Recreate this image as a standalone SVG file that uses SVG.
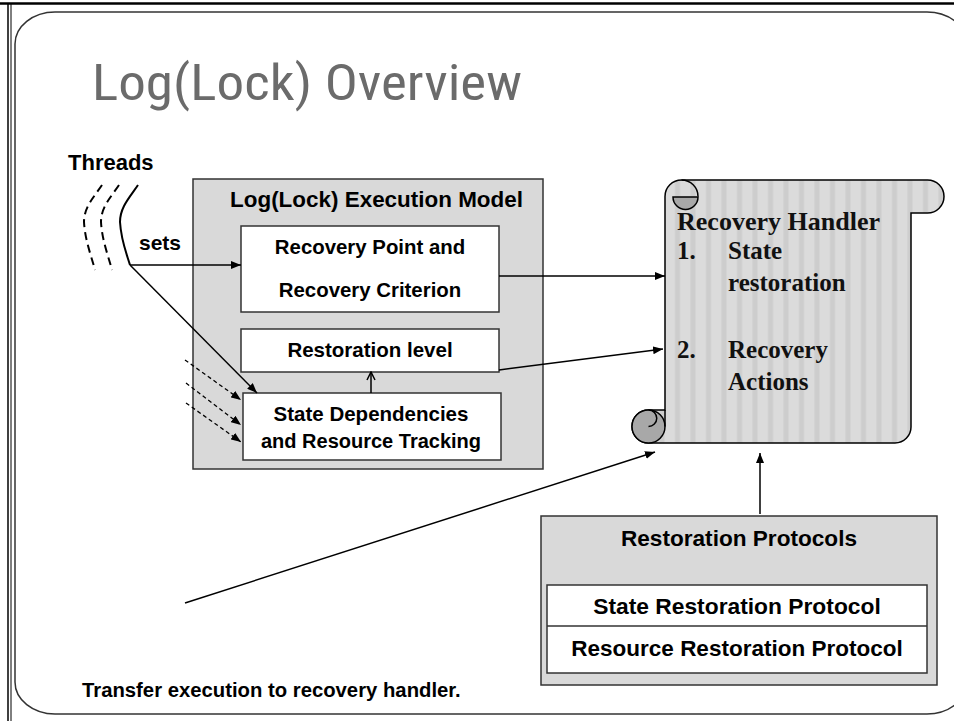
<svg xmlns="http://www.w3.org/2000/svg" width="954" height="721" viewBox="0 0 954 721">
<style>
.b{font-family:"Liberation Sans",Arial,sans-serif;font-weight:bold;fill:#000}
.s{font-family:"Liberation Serif","Times New Roman",serif;font-weight:bold;font-size:25px;fill:#111}
.box{fill:#d9d9d9;stroke:#333;stroke-width:1.5}
.wbox{fill:#fff;stroke:#333;stroke-width:1.5}
.ln{fill:none;stroke:#000;stroke-width:1.5}
.dl{fill:none;stroke:#000;stroke-width:1.3;stroke-dasharray:4 3}
.th{fill:none;stroke:#000;stroke-width:2}
.thd{fill:none;stroke:#000;stroke-width:2;stroke-dasharray:8 5}
</style>
<defs>
<marker id="ah" viewBox="0 0 10 8" refX="10" refY="4" markerWidth="10" markerHeight="8" markerUnits="userSpaceOnUse" orient="auto"><path d="M0,0 L10,4 L0,8 z" fill="#000"/></marker>
<marker id="oh" viewBox="0 0 10 10" refX="9" refY="5" markerWidth="10" markerHeight="10" markerUnits="userSpaceOnUse" orient="auto"><path d="M1,1 L9,5 L1,9" fill="none" stroke="#000" stroke-width="1.5"/></marker>
<pattern id="stripes" patternUnits="userSpaceOnUse" x="665" y="0" width="15.5" height="10"><rect width="15.5" height="10" fill="#dbdbdb"/><rect x="10" width="5" height="10" fill="#cdcdcd"/></pattern>
</defs>
<rect width="954" height="721" fill="#fff"/>
<g id="frame">
<line x1="0" y1="3.5" x2="954" y2="3.5" stroke="#000" stroke-width="2.5"/>
<line x1="8" y1="3" x2="8" y2="721" stroke="#000" stroke-width="1.5"/>
<line x1="11" y1="3" x2="11" y2="721" stroke="#000" stroke-width="1"/>
<rect x="15" y="12" width="952" height="702" rx="40" ry="32" fill="none" stroke="#333" stroke-width="1.5"/>
</g>
<g id="title"><text x="92" y="100" font-family="'Liberation Sans Narrow','Roboto Condensed','DejaVu Sans Condensed','Liberation Sans',sans-serif" font-size="50" fill="#6b6b6b" textLength="430" lengthAdjust="spacingAndGlyphs">Log(Lock) Overview</text></g>
<g id="threads">
<text class="b" x="68" y="170" font-size="22">Threads</text>
<path class="th" d="M138,185 C130,197 120,207 120,222 C121,240 126,252 130,265"/>
<path class="thd" d="M119,185 C111,197 101,207 101,222 C102,240 108,255 112,270"/>
<path class="thd" d="M102,185 C94,197 84,207 84,222 C85,240 91,255 95,270"/>
</g>
<g id="execution-model">
<rect class="box" x="193" y="179" width="350" height="290"/>
<text class="b" x="230" y="207" font-size="22.4" textLength="293" lengthAdjust="spacingAndGlyphs">Log(Lock) Execution Model</text>
</g>
<g id="recovery-point">
<rect class="wbox" x="241" y="226" width="258" height="86"/>
<text class="b" x="370" y="254" font-size="20.4" text-anchor="middle">Recovery Point and</text>
<text class="b" x="370" y="297" font-size="20.4" text-anchor="middle">Recovery Criterion</text>
</g>
<g id="restoration-level">
<rect class="wbox" x="241" y="329" width="258" height="43"/>
<text class="b" x="370" y="357" font-size="20.5" text-anchor="middle">Restoration level</text>
</g>
<g id="state-dependencies">
<rect class="wbox" x="243" y="393" width="258" height="67"/>
<text class="b" x="371" y="421" font-size="20.5" text-anchor="middle">State Dependencies</text>
<text class="b" x="371" y="448" font-size="20" text-anchor="middle">and Resource Tracking</text>
</g>
<g id="recovery-handler">
<path d="M665,196.5 A16.5,16.5 0 0 1 681.5,180 L927.5,180 A16.5,16.5 0 0 1 927.5,213 L911,213 L911,427 A16,16 0 0 1 895,443 L648.5,443 A16.5,16.5 0 0 1 648.5,410 L665,410 Z" fill="url(#stripes)" stroke="#000" stroke-width="1.5"/>
<circle cx="648.5" cy="426.5" r="16.5" fill="#a8a8a8" stroke="#000" stroke-width="1.5"/>
<path d="M648.5,426.5 A8.25,8.25 0 0 0 648.5,410" fill="none" stroke="#000" stroke-width="1.5"/>
<path d="M665,410 L665,426.5" fill="none" stroke="#000" stroke-width="1.5"/>
<path d="M681.5,180 A16.5,16.5 0 0 1 698,196.5" fill="none" stroke="#000" stroke-width="1.5"/>
<path d="M673,197 L698,197 A12.5,12.5 0 0 1 673,197 Z" fill="#a8a8a8" stroke="#000" stroke-width="1.5"/>
<text class="s" x="677" y="230" textLength="203" lengthAdjust="spacingAndGlyphs">Recovery Handler</text>
<text class="s" x="677" y="259">1.</text>
<text class="s" x="728" y="259">State</text>
<text class="s" x="728" y="291">restoration</text>
<text class="s" x="677" y="358">2.</text>
<text class="s" x="728" y="358">Recovery</text>
<text class="s" x="728" y="390">Actions</text>
</g>
<g id="restoration-protocols">
<rect class="box" x="541" y="516" width="396" height="169"/>
<text class="b" x="739" y="546" font-size="22.6" text-anchor="middle">Restoration Protocols</text>
<rect class="wbox" x="547" y="585" width="380" height="88"/>
<line x1="547" y1="626" x2="927" y2="626" stroke="#333" stroke-width="1.5"/>
<text class="b" x="737" y="614" font-size="22.8" text-anchor="middle">State Restoration Protocol</text>
<text class="b" x="737" y="656" font-size="22.5" text-anchor="middle">Resource Restoration Protocol</text>
</g>
<g id="transfer-label">
<text class="b" x="82" y="697" font-size="20.3">Transfer execution to recovery handler.</text>
</g>
<g id="connectors">
<text class="b" x="139" y="250" font-size="21">sets</text>
<line class="ln" x1="130" y1="265" x2="241" y2="265" marker-end="url(#ah)"/>
<line class="ln" x1="130" y1="265" x2="257" y2="393" marker-end="url(#ah)"/>
<line class="dl" x1="185" y1="360" x2="241" y2="400" marker-end="url(#ah)"/>
<line class="dl" x1="186" y1="383" x2="241" y2="425" marker-end="url(#ah)"/>
<line class="dl" x1="186" y1="403" x2="241" y2="442" marker-end="url(#ah)"/>
<line class="ln" x1="371" y1="393" x2="371" y2="372" marker-end="url(#oh)"/>
<line class="ln" x1="499" y1="276" x2="665" y2="276" marker-end="url(#ah)"/>
<line class="ln" x1="499" y1="370" x2="663" y2="349" marker-end="url(#ah)"/>
<line class="ln" x1="185" y1="603" x2="655" y2="452" marker-end="url(#ah)"/>
<line class="ln" x1="760" y1="514" x2="760" y2="453" marker-end="url(#ah)"/>
</g>
</svg>
